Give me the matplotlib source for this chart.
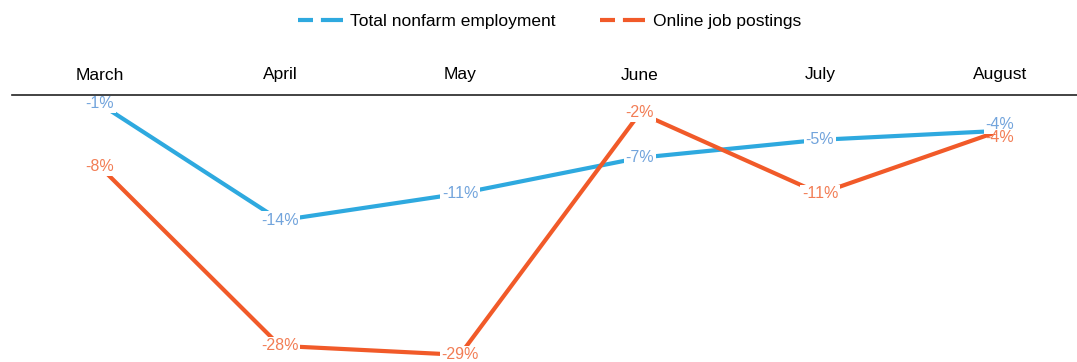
import matplotlib.pyplot as plt
from matplotlib.lines import Line2D

plt.rcParams['font.family'] = ['Liberation Sans', 'DejaVu Sans']

months = ["March", "April", "May", "June", "July", "August"]
employment = [-1, -14, -11, -7, -5, -4]
postings = [-8, -28, -29, -2, -11, -4]

blue = '#2ea9df'
orange = '#f15a29'
blue_txt = '#72a4dc'
orange_txt = '#f27d55'

fig = plt.figure(figsize=(10.77, 3.62), dpi=100)
ax = fig.add_axes([12 / 1077, 0.0, 1 - 12 / 1077, (362 - 95) / 362])

x = list(range(len(months)))
ax.plot(x, employment, color=blue, lw=3, solid_capstyle='butt', zorder=2)
ax.plot(x, postings, color=orange, lw=3, solid_capstyle='butt', zorder=2)

box = dict(facecolor='white', edgecolor='none', pad=1.0)
for i, v in enumerate(employment):
    dy = 0.7 if (i == 5 and v == postings[i]) else 0
    ax.text(i, v + dy, f"{v}%", color=blue_txt, fontsize=11.5, ha='center',
            va='center', bbox=box, zorder=3, clip_on=False)
for i, v in enumerate(postings):
    dy = -0.7 if (i == 5 and v == employment[i]) else 0
    ax.text(i, v + dy, f"{v}%", color=orange_txt, fontsize=11.5, ha='center',
            va='center', bbox=box if i != 5 else dict(facecolor='none', edgecolor='none'),
            zorder=4, clip_on=False)

ax.set_xlim(-0.489, 5.428)
ax.set_ylim(-29.8, 0)
ax.xaxis.tick_top()
ax.set_xticks(x)
ax.set_xticklabels(months, fontsize=12.5)
ax.tick_params(axis='x', length=0, pad=9)
ax.set_yticks([])
for s in ['left', 'right', 'bottom']:
    ax.spines[s].set_visible(False)
ax.spines['top'].set_color('#222222')
ax.spines['top'].set_linewidth(1.2)
ax.spines['top'].set_zorder(6)

dash = (0, (3.6, 1.9, 5.3, 10))
handles = [Line2D([0], [0], color=blue, lw=3, linestyle=dash),
           Line2D([0], [0], color=orange, lw=3, linestyle=dash)]
fig.legend(handles, ["Total nonfarm employment", "Online job postings"],
           loc='center', bbox_to_anchor=(0.51, 0.94), ncol=2, frameon=False,
           fontsize=12.5, handlelength=2.6, columnspacing=2.6, handletextpad=0.4)

fig.savefig('out.png', dpi=100)
